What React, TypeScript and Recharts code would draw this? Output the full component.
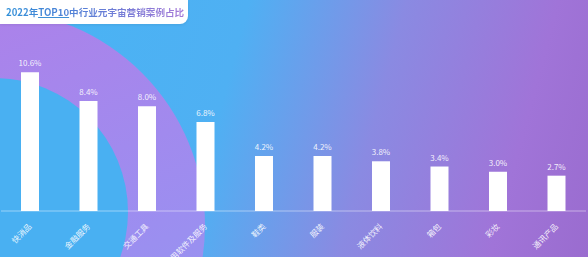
import React from 'react';
import { BarChart, Bar, XAxis, YAxis, LabelList } from 'recharts';

const categories = ['快消品', '金融服务', '交通工具', '应用软件及服务', '鞋类', '服装', '液体饮料', '箱包', '彩妆', '通讯产品'];
const shares = [10.6, 8.4, 8.0, 6.8, 4.2, 4.2, 3.8, 3.4, 3.0, 2.7];

const chartData = categories.map((name, i) => ({ name, value: shares[i] }));

const FONT = '"Noto Sans CJK SC", "Noto Sans", sans-serif';

const AngledTick = ({ x, y, payload }: any) => (
  <text
    x={x + 2}
    y={y + 8}
    transform={`rotate(-45, ${x + 2}, ${y + 8})`}
    textAnchor="end"
    fill="#ffffff"
    fillOpacity={0.9}
    fontSize={8}
    fontFamily={FONT}
  >
    {payload.value}
  </text>
);

export default function App() {
  return (
    <div
      style={{
        position: 'absolute',
        left: 0,
        top: 0,
        width: 588,
        height: 257,
        overflow: 'hidden',
        background: 'linear-gradient(105deg, #48b4f4 0%, #4fb0f3 38%, #8a8ae2 62%, #a074d8 85%, #9a6ccf 100%)',
        fontFamily: FONT,
      }}
    >
      {/* decorative circles */}
      <div
        style={{
          position: 'absolute',
          left: -225,
          top: 10,
          width: 430,
          height: 430,
          borderRadius: '50%',
          background: 'linear-gradient(160deg, #b07ee8 0%, #9c8ef0 60%, #8f9af0 100%)',
        }}
      />
      <div
        style={{
          position: 'absolute',
          left: -140,
          top: 78,
          width: 268,
          height: 268,
          borderRadius: '50%',
          background: '#49b0f2',
        }}
      />

      {/* title */}
      <div
        style={{
          position: 'absolute',
          left: 0,
          top: 0,
          width: 188,
          height: 24,
          background: '#ffffff',
          borderRadius: '0 0 8px 0',
          boxShadow: '0 1px 3px rgba(0,0,0,0.08)',
        }}
      >
        <span
          style={{
            position: 'absolute',
            left: 6,
            top: 5,
            fontSize: 9.6,
            fontWeight: 700,
            whiteSpace: 'nowrap',
            background: 'linear-gradient(90deg, #2f8fd8 0%, #5a7fd6 45%, #a77ad8 100%)',
            WebkitBackgroundClip: 'text',
            backgroundClip: 'text',
            color: 'transparent',
          }}
        >
          2022年<span style={{ textDecoration: 'underline', textDecorationColor: '#3d8fd6' }}>TOP10</span>中行业元宇宙营销案例占比
        </span>
      </div>

      <div style={{ position: 'absolute', left: 0, top: 0 }}>
        <BarChart
          width={588}
          height={257}
          data={chartData}
          margin={{ top: 54, right: 2, left: 1, bottom: 0 }}
        >
          <YAxis hide domain={[0, 12]} />
          <XAxis
            dataKey="name"
            interval={0}
            tickLine={false}
            axisLine={{ stroke: '#ffffff', strokeOpacity: 0.45 }}
            tick={<AngledTick />}
            height={46}
          />
          <Bar dataKey="value" fill="#ffffff" barSize={18} isAnimationActive={false}>
            <LabelList
              dataKey="value"
              position="top"
              offset={6}
              formatter={(v: any) => `${Number(v).toFixed(1)}%`}
              fill="#ffffff"
              fillOpacity={0.9}
              fontSize={8}
              fontFamily={FONT}
            />
          </Bar>
        </BarChart>
      </div>
    </div>
  );
}
